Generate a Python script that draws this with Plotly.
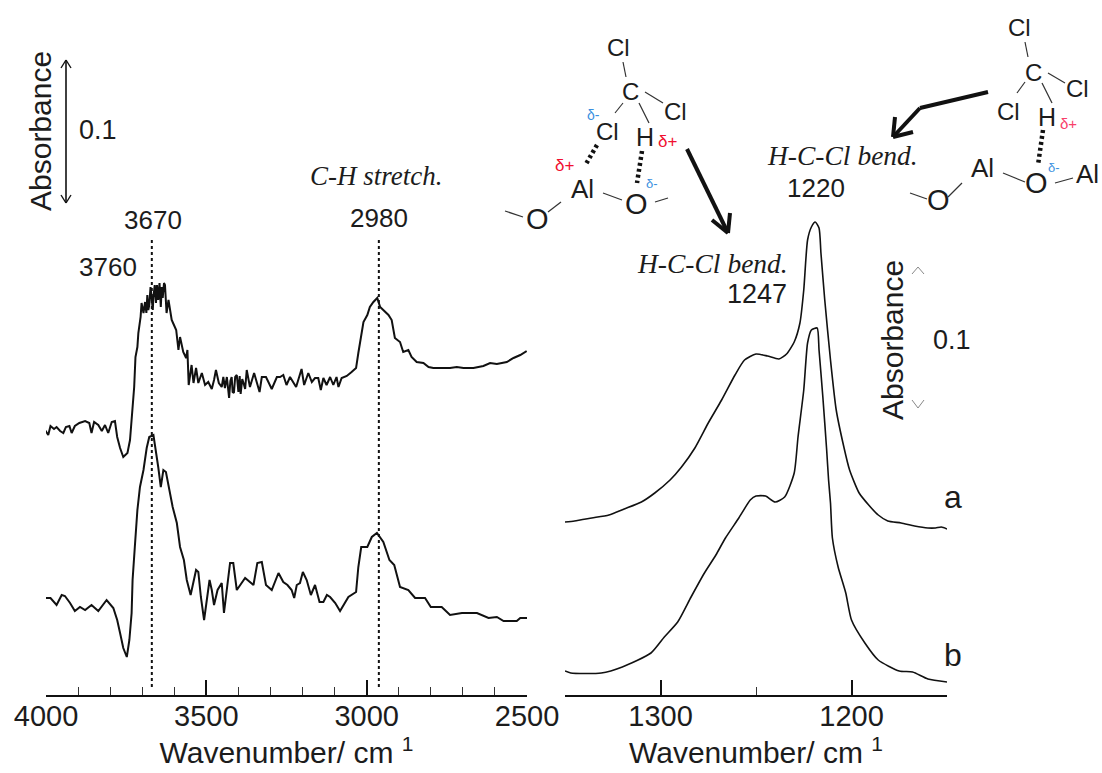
import plotly.graph_objects as go

W, H = 1102, 773
AXIS_PX = 695

# Wavenumber (cm-1) and signal height above the axis (150 units = 0.1 absorbance)
wn_high_a = [4003,3993,3986,3975,3967,3956,3946,3938,3927,3920,3910,3896,3878,3865,3858,3850,3837,3826,3816,3806,3795,3785,3778,3769,3759,3746,3738,3732,3725,3721,3715,
             3712,3705,3702,3696,3691,3687,3684,3681,3678,3674,3670,3667,3665,3661,3657,3654,3650,3646,3642,3639,3636,3632,3629,3624,3618,
             3608,3601,3594,3587,3582,3572,3563,3559,3555,3546,3540,3532,3525,3514,3504,3494,3483,3476,3470,3461,
             3452,3447,3442,3436,3429,3425,3421,3418,3414,3410,3405,3400,3396,3393,3388,3384,3379,3374,
             3364,3351,3334,3327,3314,3296,3280,3270,3260,3250,3239,3220,3210,3203,3195,3182,3171,3161,3151,3143,3135,3125,3114,3104,3094,3088,3078,3062,3047,3033,3026,3019,3010,2998,2990,2979,2967,2958,2948,2932,2922,2912,2896,2886,2870,2860,2844,2823,2807,2792,2771,2740,2719,2698,2667,2636,2615,2594,2563,2542,2521,2501]
abs_high_a = [265,260,269,266,268,264,262,268,269,262,269,272,274,272,262,273,270,264,270,262,273,274,258,247,238,242,255,282,308,338,348,
              362,378,392,382,393,382,400,385,390,408,395,385,398,410,392,410,395,412,388,408,397,412,410,382,395,
              375,370,365,345,358,343,337,345,310,330,312,327,312,322,310,313,306,315,325,312,
              308,318,307,318,297,314,318,303,302,318,320,303,319,301,316,312,306,325,
              308,322,303,318,318,306,318,318,320,310,318,308,318,326,310,322,313,317,317,305,317,310,318,310,318,308,317,319,323,327,342,355,373,380,388,393,397,388,385,380,375,357,353,343,345,338,333,332,328,327,327,327,328,327,327,329,332,331,333,337,340,344]

wn_high_b = [4003,3986,3967,3951,3941,3925,3910,3894,3878,3858,3837,3811,3790,3778,3769,3759,3748,3740,3733,3730,3723,3715,3707,3696,3686,3678,3665,3657,3650,3642,3634,3626,3615,3605,3592,3582,3570,3561,3549,3540,3532,3525,3517,3507,3497,3490,3483,3476,3465,3452,3445,3434,3426,3416,3405,3390,3379,3353,3341,3327,3314,3296,3275,3260,3247,3234,3226,3218,3208,3199,3187,3174,3161,3147,3135,3124,3114,3098,3083,3057,3033,3026,3017,2998,2984,2968,2948,2929,2914,2896,2870,2849,2818,2800,2766,2740,2703,2656,2620,2594,2573,2532,2521,2498]
abs_high_b = [97,97,90,100,99,92,84,88,85,90,84,95,87,75,62,47,38,55,82,115,148,185,208,225,247,258,260,245,228,208,225,223,205,188,172,148,135,115,100,112,125,123,98,75,102,115,105,90,105,112,82,108,132,132,105,112,117,110,132,133,110,105,122,113,110,105,97,110,112,123,115,100,110,93,93,100,98,92,84,98,103,128,148,148,158,162,153,135,130,108,105,97,97,88,88,80,82,82,77,78,74,74,77,77]

wn_low_a = [1350,1345,1336,1327,1319,1310,1303,1295,1289,1282,1275,1268,1261,1256,1250,1244,1238,1234,1230,1227,1225,1223,1221,1219,1217,1216,1214,1211,1208,1204,1201,1196,1191,1186,1181,1174,1167,1160,1156,1153,1150]
abs_low_a = [173,174,177,180,186,193,202,215,228,247,272,295,320,335,341,339,336,341,353,372,405,455,468,473,467,442,395,335,285,248,225,202,190,180,174,172,169,167,167,168,166]

wn_low_b = [1350,1347,1331,1320,1305,1298,1291,1284,1277,1271,1266,1259,1253,1250,1245,1240,1235,1230,1228,1225,1223,1221,1218,1217,1215,1213,1212,1211,1210,1207,1203,1200,1193,1186,1175,1168,1160,1150]
abs_low_b = [24,22,22,28,42,58,73,98,122,140,157,177,195,199,199,193,198,222,258,305,352,365,367,345,298,245,215,192,157,128,102,75,52,35,24,23,16,13]

peak_marks = [3670, 2962]
high_ticks = [4000, 3500, 3000, 2500]
high_minor = [3900, 3800, 3700, 3600, 3400, 3300, 3200, 3100, 2900, 2800, 2700, 2600]
low_ticks = [1300, 1200]
low_minor = [1350, 1250, 1150]

INK = "#1c1c1c"
SANS = "Liberation Sans"
SERIF = "Liberation Serif"

def px(x): return x / W
def py(y): return 1 - y / H

fig = go.Figure()
for xs, ys in [(wn_high_a, abs_high_a), (wn_high_b, abs_high_b)]:
    fig.add_trace(go.Scatter(x=xs, y=ys, mode="lines", xaxis="x", yaxis="y",
                             line=dict(color="#111111", width=2), showlegend=False))
for wn in peak_marks:
    fig.add_trace(go.Scatter(x=[wn, wn], y=[8, 458], mode="lines", xaxis="x", yaxis="y",
                             line=dict(color="#111111", width=2, dash="3px,3px"), showlegend=False))
for xs, ys in [(wn_low_a, abs_low_a), (wn_low_b, abs_low_b)]:
    fig.add_trace(go.Scatter(x=xs, y=ys, mode="lines", xaxis="x2", yaxis="y",
                             line=dict(color="#111111", width=1.6, shape="spline", smoothing=0.6),
                             showlegend=False))

labels = [
    ("Absorbance", 40, 131, 30, -90, INK, SANS),
    ("0.1", 98, 130, 27, 0, INK, SANS),
    ("3670", 153, 220, 26, 0, INK, SANS),
    ("3760", 108, 267, 26, 0, INK, SANS),
    ("<i>C-H stretch.</i>", 376, 176, 27, 0, INK, SERIF),
    ("2980", 379, 218, 26, 0, INK, SANS),
    ("Cl", 618, 47, 24, 0, INK, SANS),
    ("C", 630, 91, 24, 0, INK, SANS),
    ("Cl", 675, 111, 24, 0, INK, SANS),
    ("Cl", 607, 131, 24, 0, INK, SANS),
    ("H", 645, 137, 25, 0, INK, SANS),
    ("δ+", 667, 141, 17, 0, "#f01030", SANS),
    ("δ-", 593, 115, 14, 0, "#3a8fe0", SANS),
    ("δ+", 564, 166, 17, 0, "#f01030", SANS),
    ("Al", 582, 189, 26, 0, INK, SANS),
    ("O", 636, 204, 29, 0, INK, SANS),
    ("δ-", 652, 183, 13, 0, "#3a8fe0", SANS),
    ("O", 537, 219, 29, 0, INK, SANS),
    ("<i>H-C-Cl bend.</i>", 712, 263, 27.5, 0, INK, SERIF),
    ("1247", 757, 294, 27, 0, INK, SANS),
    ("Cl", 1020, 27, 24, 0, INK, SANS),
    ("C", 1033, 72, 24, 0, INK, SANS),
    ("Cl", 1077, 89, 24, 0, INK, SANS),
    ("Cl", 1008, 112, 24, 0, INK, SANS),
    ("H", 1047, 117, 25, 0, INK, SANS),
    ("δ+", 1068, 123, 15, 0, "#f8406a", SANS),
    ("δ-", 1054, 167, 13, 0, "#3a8fe0", SANS),
    ("O", 1036, 183, 29, 0, INK, SANS),
    ("Al", 982, 168, 26, 0, INK, SANS),
    ("Al", 1087, 174, 26, 0, INK, SANS),
    ("O", 938, 200, 29, 0, INK, SANS),
    ("<i>H-C-Cl bend.</i>", 842, 155, 27.5, 0, INK, SERIF),
    ("1220", 816, 188, 26, 0, INK, SANS),
    ("Absorbance", 892, 340, 30, -90, INK, SANS),
    ("0.1", 952, 340, 27, 0, INK, SANS),
    ("a", 953, 497, 32, 0, INK, SANS),
    ("b", 953, 655, 32, 0, INK, SANS),
]
annotations = [dict(text=t, x=px(x), y=py(y), xref="paper", yref="paper", showarrow=False,
                    xanchor="center", yanchor="middle", textangle=a,
                    font=dict(size=s, color=c, family=f)) for t, x, y, s, a, c, f in labels]

def segment(x0, y0, x1, y1, width=1.2, color="#333333", dash=None):
    return dict(type="line", xref="paper", yref="paper", x0=px(x0), y0=py(y0), x1=px(x1), y1=py(y1),
                line=dict(color=color, width=width, dash=dash))

bonds = [
    (623,62,626,77),(645,92,663,103),(623,103,615,113),(639,103,649,123),
    (561,202,548,212),(603,193,622,200),(655,202,668,198),(505,211,523,217),
    (1025,42,1028,57),(1048,73,1065,83),(1025,82,1017,93),(1042,83,1052,103),
    (962,183,948,197),(910,193,927,199),(1003,173,1025,182),(1055,183,1073,178),
]
hbonds = [(597,145,586,164),(642,151,637,183),(1043,130,1038,165)]
heavy = [
    (687,149,728,233),(712,220,728,233),(730,213,728,233),
    (988,92,920,108),(920,108,893,137),(895,117,893,137),(913,132,893,137),
]
chevrons = [(912,274,918,267),(918,267,924,274),(912,400,918,408),(918,408,924,400)]
shapes = [segment(*b) for b in bonds]
shapes += [segment(*b, width=4.5, color="#111111", dash="3px,3px") for b in hbonds]
shapes += [segment(*b, width=4, color="#111111") for b in heavy]
shapes += [segment(*b, width=1, color="#888888") for b in chevrons]
shapes += [segment(66, 60, 66, 203, width=1.6, color="#111111"),
           segment(61, 68, 66, 60, width=1.4, color="#111111"),
           segment(71, 68, 66, 60, width=1.4, color="#111111"),
           segment(61, 195, 66, 203, width=1.4, color="#111111"),
           segment(71, 195, 66, 203, width=1.4, color="#111111")]

def xaxis(domain, rng, ticks, minor):
    return dict(domain=[px(domain[0]), px(domain[1])], range=rng, anchor="y", automargin=False,
                tickmode="array", tickvals=ticks, ticks="inside", ticklen=15, tickwidth=1.6,
                tickcolor="#111111", showgrid=False, zeroline=False,
                showline=True, linecolor="#111111", linewidth=2,
                ticklabelstandoff=-6,
                minor=dict(tickmode="array", tickvals=minor, ticks="inside", ticklen=8,
                           tickwidth=1.4, tickcolor="#333333", showgrid=False),
                tickfont=dict(family=SANS, size=29, color=INK),
                title=dict(text="Wavenumber/ cm <sup>1</sup>", standoff=6,
                           font=dict(family=SANS, size=30, color=INK)))

fig.update_layout(
    width=W, height=H, autosize=False,
    margin=dict(l=0, r=0, t=0, b=0, autoexpand=False),
    paper_bgcolor="white", plot_bgcolor="white",
    xaxis=xaxis((46, 527), [4000, 2500], high_ticks, high_minor),
    xaxis2=xaxis((565, 947), [1350, 1150], low_ticks, low_minor),
    yaxis=dict(domain=[py(AXIS_PX), 1], range=[0, AXIS_PX], visible=False),
    annotations=annotations, shapes=shapes, showlegend=False,
)
fig.write_html("out.html", config={"displayModeBar": False},
               post_script="document.body.style.margin='0';")
